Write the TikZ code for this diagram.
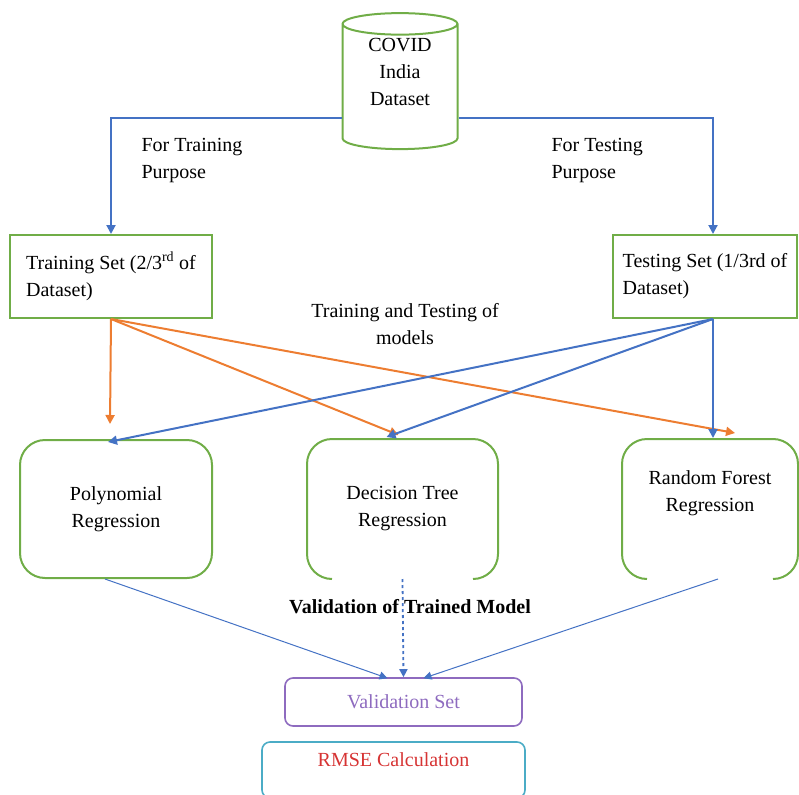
\documentclass[tikz,border=0pt]{standalone}
\usepackage{fontspec}
\setmainfont{Liberation Serif}
\usetikzlibrary{shapes.geometric,arrows.meta,calc}
\definecolor{boxgreen}{RGB}{112,173,71}
\definecolor{lineblue}{RGB}{68,114,196}
\definecolor{lineorange}{RGB}{237,125,49}
\definecolor{setpurple}{RGB}{142,107,191}
\definecolor{calccyan}{RGB}{75,172,198}
\definecolor{calcred}{RGB}{214,52,52}
\tikzset{
  setbox/.style={rectangle, draw=boxgreen, line width=2pt, align=left, inner xsep=3pt, minimum height=83pt},
  modelbox/.style={rectangle, rounded corners=25pt, line width=2pt, align=center, minimum height=138pt},
  roundbox/.style={rectangle, rounded corners=8pt, line width=1.6pt},
  blueline/.style={draw=lineblue, line width=2pt, -{Triangle[length=9pt,width=9pt]}},
  orangeline/.style={draw=lineorange, line width=2pt, -{Triangle[length=9pt,width=9pt]}},
  thinline/.style={draw=lineblue, line width=1pt, -{Triangle[length=8pt,width=8pt]}},
  greenline/.style={draw=boxgreen, line width=2pt},
}
\begin{document}
\begin{tikzpicture}[x=1pt, y=-1pt, font=\fontsize{20}{27}\selectfont]
        \useasboundingbox (0,0) rectangle (799,794);

        \node[cylinder, shape border rotate=90, draw=boxgreen, line width=2pt, minimum width=115pt, minimum height=136pt, shape aspect=0.34, align=center, inner sep=0pt, text depth=30pt] (db) at(400,87){COVID\\India\\Dataset};

        \node[setbox, minimum width=202pt] (train) at(111,276.5){Training Set (2/3\textsuperscript{rd} of\\Dataset)};
        \node[setbox, minimum width=184pt] (test) at(705,276.5){Testing Set (1/3rd of\\Dataset)};

        \draw[blueline] ($(db.west)+(0,31)$) -| (train.north);
        \draw[blueline] ($(db.east)+(0,31)$) -| ($(test.north)+(8,0)$);
        \node[align=left, anchor=west] (trainlabel) at(138,161){For Training\\Purpose};
        \node[align=left, anchor=west] (testlabel) at(548,161){For Testing\\Purpose};

        \node[align=center] (fitlabel) at(405,324){Training and Testing of\\models};

        \node[modelbox, draw=boxgreen, minimum width=192pt] (poly) at(116,509){Polynomial\\Regression};
        \node[modelbox, minimum width=189pt] (dt) at(402.5,509){Decision Tree\\Regression};
        \node[modelbox, minimum width=174pt, text depth=36pt] (rf) at(710,509){Random Forest\\Regression};
        % open bottoms
        \draw[greenline, rounded corners=25pt] ($(dt.south west)+(25,0)$) -- (dt.south west) -- (dt.north west) -- (dt.north east) -- (dt.south east) -- ($(dt.south east)+(-25,0)$);
        \draw[greenline, rounded corners=25pt] ($(rf.south west)+(25,0)$) -- (rf.south west) -- (rf.north west) -- (rf.north east) -- (rf.south east) -- ($(rf.south east)+(-25,0)$);

        \draw[orangeline] (train.south) -- ($(poly.north)+(-6,-15)$);
        \draw[orangeline] (train.south) -- ($(dt.north)+(-4,-4)$);
        \draw[orangeline] (train.south) -- ($(rf.north)+(25,-6)$);
        \draw[blueline] ($(test.south)+(8,0)$) -- ($(poly.north)+(-8,3)$);
        \draw[blueline] ($(test.south)+(8,0)$) -- ($(dt.north)+(-16,-2)$);
        \draw[blueline] ($(test.south)+(8,0)$) -- ($(rf.north)+(3,-1)$);

        \node[roundbox, draw=setpurple, text=setpurple, minimum width=237pt, minimum height=48pt] (valset) at(403.5,702){Validation Set};
        \node[roundbox, draw=calccyan, text=calcred, minimum width=263pt, minimum height=56pt, text depth=21pt] (rmse) at(393.5,770){RMSE Calculation};

        \draw[thinline] ($(poly.south)+(-11,0)$) -- ($(valset.north)+(-16,1)$);
        \draw[thinline, dashed, line width=1.8pt] (dt.south) -- (valset.north);
        \draw[thinline] ($(rf.south)+(8,0)$) -- ($(valset.north)+(20,1)$);
        \node[font=\fontsize{20}{27}\selectfont\bfseries] (vallabel) at(410,607){Validation of Trained Model};

      \end{tikzpicture}
\end{document}
